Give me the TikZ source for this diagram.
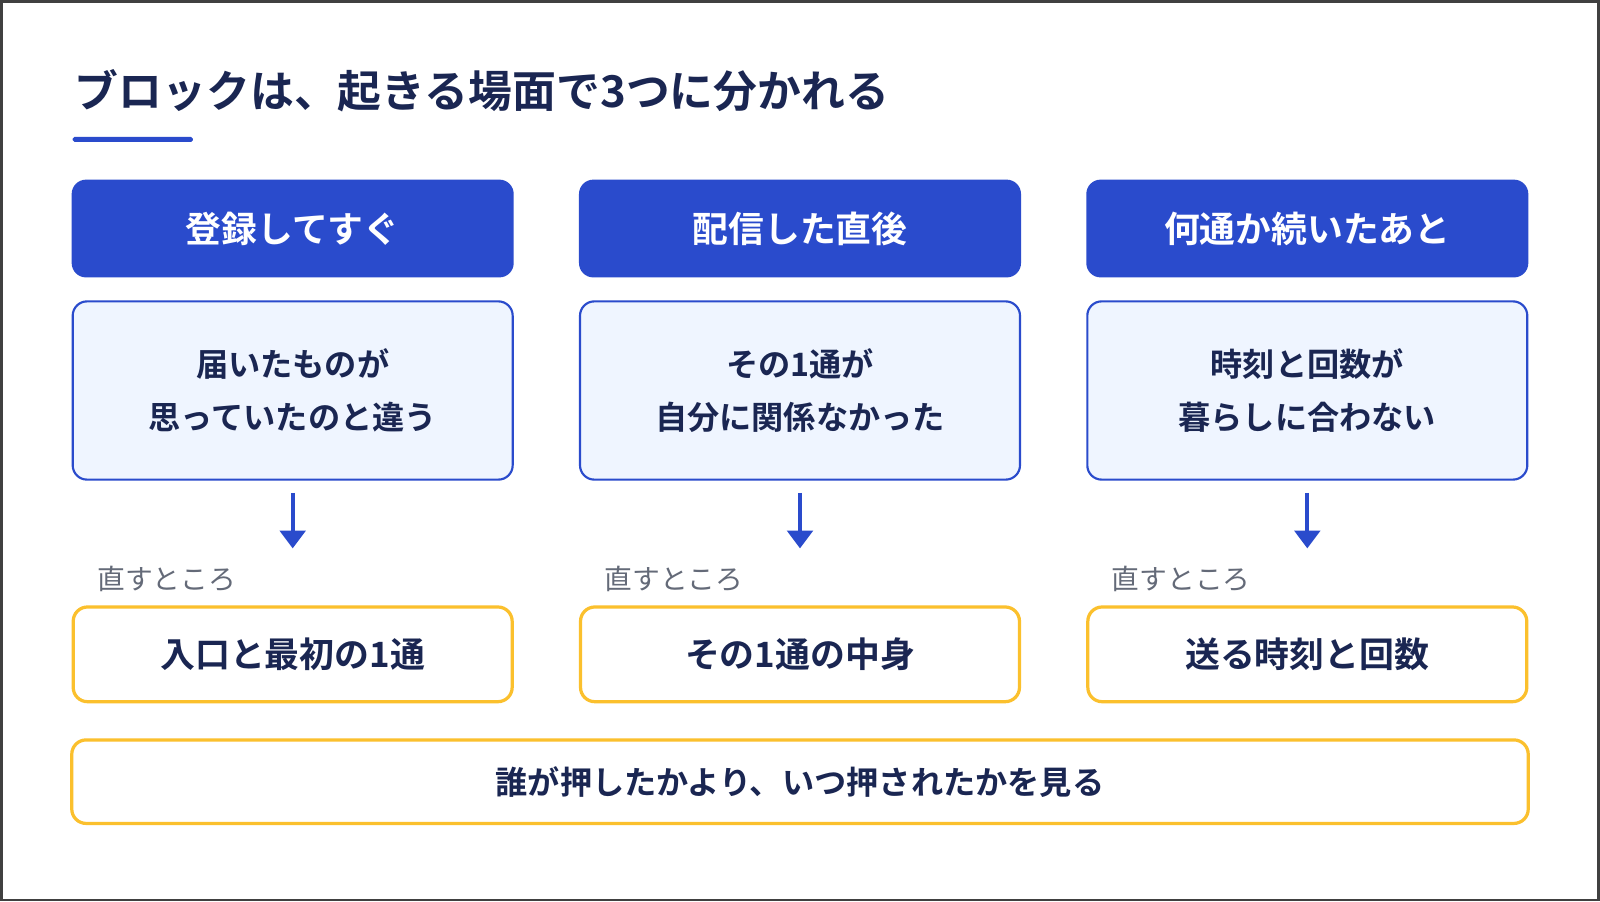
\documentclass[tikz,border=0pt]{standalone}
\usepackage{fontspec}
\setmainfont{Noto Sans CJK JP}[BoldFont={Noto Sans CJK JP Bold}]
\usetikzlibrary{arrows.meta, positioning, calc}
\definecolor{headblue}{RGB}{42, 75, 204}
\definecolor{navy}{RGB}{26, 38, 82}
\definecolor{paleblue}{RGB}{239, 245, 255}
\definecolor{fixyellow}{RGB}{251, 192, 45}
\definecolor{labelgray}{RGB}{100, 106, 120}
\tikzset{
    head/.style={
        rectangle, rounded corners=8pt, minimum width=8.68cm, minimum height=1.92cm,
        fill=headblue, text=white, font=\fontsize{20}{24}\selectfont\bfseries
    },
    cause/.style={
        rectangle, rounded corners=8pt, minimum width=8.64cm, minimum height=3.5cm,
        draw=headblue, line width=1.2pt, fill=paleblue, text=navy,
        font=\fontsize{18}{30}\selectfont\bfseries, align=center
    },
    fix/.style={
        rectangle, rounded corners=8pt, minimum width=8.62cm, minimum height=1.86cm,
        draw=fixyellow, line width=1.8pt, fill=white, text=navy,
        font=\fontsize{19.5}{24}\selectfont\bfseries
    },
    arrow/.style={-{Triangle[length=3.5mm, width=5mm]}, line width=2.2pt, color=headblue},
    label/.style={font=\fontsize{15.5}{18}\selectfont, text=labelgray, anchor=west},
}
\begin{document}
\begin{tikzpicture}[x=0.02cm, y=-0.02cm]
    \draw[line width=1.5pt, draw=black!75, fill=white] (0,0) rectangle (1568,882);
    \useasboundingbox (0,0) rectangle (1568,882);

    \node[anchor=west, text=navy, font=\fontsize{24.5}{28}\selectfont\bfseries] (title) at (66, 88) {ブロックは、起きる場面で3つに分かれる};
    \fill[headblue, rounded corners=1pt] (70, 133) rectangle (188, 138);

    \node[head] (h1) at (286, 223) {登録してすぐ};
    \node[head] (h2) at (784, 223) {配信した直後};
    \node[head] (h3) at (1282, 223) {何通か続いたあと};

    \node[cause] (c1) at (286, 382) {届いたものが\\思っていたのと違う};
    \node[cause] (c2) at (784, 382) {その1通が\\自分に関係なかった};
    \node[cause] (c3) at (1282, 382) {時刻と回数が\\暮らしに合わない};

    \node[fix] (f1) at (286, 641) {入口と最初の1通};
    \node[fix] (f2) at (784, 641) {その1通の中身};
    \node[fix] (f3) at (1282, 641) {送る時刻と回数};

    \node[label] (l1) at (88, 567) {直すところ};
    \node[label] (l2) at (586, 567) {直すところ};
    \node[label] (l3) at (1084, 567) {直すところ};

    \coordinate (a1) at (286, 537);
    \coordinate (a2) at (784, 537);
    \coordinate (a3) at (1282, 537);
    \draw[arrow] ($(c1.south)+(0,12)$) -- (a1);
    \draw[arrow] ($(c2.south)+(0,12)$) -- (a2);
    \draw[arrow] ($(c3.south)+(0,12)$) -- (a3);

    \node[fix, minimum width=28.6cm, minimum height=1.64cm, font=\fontsize{18}{22}\selectfont\bfseries] (rule) at (784, 766) {誰が押したかより、いつ押されたかを見る};
\end{tikzpicture}
\end{document}
